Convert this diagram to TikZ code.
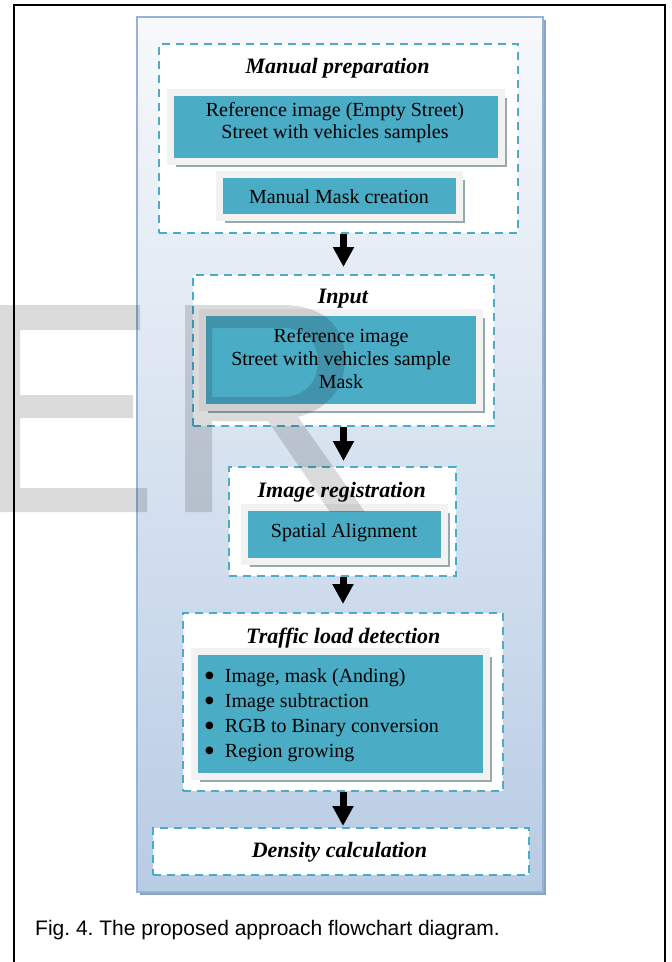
\documentclass[tikz,border=0pt]{standalone}
\usepackage{fontspec}
\setmainfont{Liberation Serif}
\newfontfamily\capfont{Liberation Sans}
\newfontfamily\symfont{DejaVu Sans}
\usetikzlibrary{arrows.meta,shadows}
\frenchspacing
\definecolor{tealc}{HTML}{4BACC6}
\definecolor{framec}{HTML}{F2F2F2}
\definecolor{shadc}{HTML}{98A9AE}
\definecolor{dashc}{HTML}{4BACC6}
\definecolor{panelb}{HTML}{95B3D7}
\definecolor{paneltop}{HTML}{F7F9FC}
\definecolor{panelbot}{HTML}{B8CCE4}
\definecolor{panelsh}{HTML}{8DA3C2}
\newcommand{\bigbul}{\raisebox{3.2pt}{\symfont\fontsize{10}{10}\selectfont ●}}
\begin{document}
\begin{tikzpicture}[x=1pt,y=-1pt,
  panel/.style={draw=panelb, line width=1.5pt, top color=paneltop, bottom color=panelbot,
    drop shadow={shadow xshift=2.5pt, shadow yshift=-2.5pt, fill=panelsh, opacity=1}, inner sep=0pt},
  dashbox/.style={draw=dashc, line width=2pt, dash pattern=on 8pt off 6pt, fill=white, inner sep=0pt},
  tealbox/.style={draw=framec, line width=7pt, fill=tealc, inner sep=0pt,
    drop shadow={shadow xshift=5.5pt, shadow yshift=-5.5pt, fill=shadc, opacity=1}},
  title/.style={font=\fontsize{22}{26}\selectfont\bfseries\itshape, anchor=base, inner sep=0pt},
  body/.style={anchor=base, inner sep=0pt},
  arr/.style={line width=7pt, -{Triangle[width=20pt,length=20pt]}},
  wmark/.style={fill=black, opacity=0.14}
]
\useasboundingbox (0,0) rectangle (672,962);
\fill[white] (0,0) rectangle (672,962);
% outer frame
\draw[line width=2pt] (14,975) -- (14,5) -- (665,5) -- (665,975);
% panel
\node[panel, minimum width=406pt, minimum height=875pt] (panel) at (340,454.5) {};
% dashed groups
\node[dashbox, minimum width=359pt, minimum height=189pt] (b1) at (338.5,138.5) {};
\node[dashbox, minimum width=301pt, minimum height=151pt] (b2) at (343.5,350.5) {};
\node[dashbox, minimum width=227pt, minimum height=109pt] (b3) at (342.5,521.5) {};
\node[dashbox, minimum width=320pt, minimum height=178pt] (b4) at (343,702) {};
\node[dashbox, minimum width=376pt, minimum height=47pt] (b5) at (341,851.5) {};
% titles
\node[title] (t1) at (337.5,73) {Manual preparation};
\node[title] (t2) at (343,303) {Input};
\node[title] (t3) at (341.7,497) {Image registration};
\node[title] (t4) at (343.3,643) {Traffic load detection};
\node[title] (t5) at (339.5,857) {Density calculation};
% teal boxes
\node[tealbox, minimum width=331pt, minimum height=69pt] (r1) at (336,127) {};
\node[tealbox, minimum width=240pt, minimum height=43pt] (r2) at (339.5,196) {};
\node[tealbox, minimum width=277pt, minimum height=95pt] (r3) at (341,360) {};
\node[tealbox, minimum width=200pt, minimum height=54pt] (r4) at (344.5,534.5) {};
\node[tealbox, minimum width=292pt, minimum height=125pt] (r5) at (340.5,714) {};
% texts
\node[body, font=\fontsize{20}{22}\selectfont] (x1) at (335,116)
  {\begin{tabular}[t]{@{}c@{}}Reference image (Empty Street)\\Street with vehicles samples\end{tabular}};
\node[body, font=\fontsize{20}{23}\selectfont] (x2) at (339,203) {Manual Mask creation};
\node[body, font=\fontsize{20}{23}\selectfont] (x3) at (341,342)
  {\begin{tabular}[t]{@{}c@{}}Reference image\\Street with vehicles sample\\Mask\end{tabular}};
\node[body, font=\fontsize{20}{23}\selectfont] (x4) at (344,537) {Spatial Alignment};
\node[body, anchor=base west, font=\fontsize{20}{25}\selectfont] (x5) at (205,682)
  {\begin{tabular}[t]{@{}l@{\hspace{11pt}}l@{}}
   \bigbul & Image, mask (Anding)\\
   \bigbul & Image subtraction\\
   \bigbul & RGB to Binary conversion\\
   \bigbul & Region growing
  \end{tabular}};
% arrows
\draw[arr, shorten >=7pt] (b2.north |- b1.south) -- (b2.north);
\draw[arr, shorten >=5pt] (b2.south) -- (b2.south |- b3.north);
\draw[arr, shorten >=8pt] (b4.north |- b3.south) -- (b4.north);
\draw[arr, shorten >=1pt] (b4.south) -- (b4.south |- b5.north);
% caption
\node[anchor=base west, inner sep=0pt, font=\capfont\fontsize{21}{25}\selectfont] (cap) at (35,935)
  {Fig. 4. The proposed approach flowchart diagram.};
% watermark
\fill[wmark] (-10,305) -- (140,305) -- (140,330) -- (20,330) -- (20,395) -- (133,395)
  -- (133,418) -- (20,418) -- (20,488) -- (147,488) -- (147,512) -- (-10,512) -- cycle;
\fill[wmark, even odd rule] (185,305) -- (282,305) .. controls (322,305) and (345,325) .. (345,360)
  .. controls (345,390) and (325,410) .. (298,417) -- (365,512) -- (330,512) -- (268,421)
  -- (212,421) -- (212,512) -- (185,512) -- cycle
  (212,328) -- (283,328) .. controls (305,328) and (318,342) .. (318,362)
  .. controls (318,383) and (303,397) .. (283,397) -- (212,397) -- cycle;
\end{tikzpicture}
\end{document}
